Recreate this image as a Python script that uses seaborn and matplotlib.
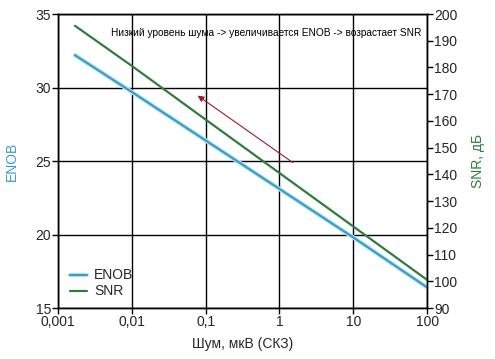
import numpy as np
import pandas as pd
import matplotlib
matplotlib.use("Agg")
import matplotlib.pyplot as plt
import matplotlib.patheffects as pe
from matplotlib.ticker import FixedLocator, FuncFormatter, NullLocator
import seaborn as sns

# --- данные ---
noise_uv = [0.0017, 0.01, 0.1, 1, 10, 100]
enob = [32.2, 29.7, 26.4, 23.1, 19.8, 16.4]
snr_db = [195.6, 180.6, 160.5, 140.5, 120.5, 100.5]

x_ticks = [0.001, 0.01, 0.1, 1, 10, 100]
x_tick_labels = ["0,001", "0,01", "0,1", "1", "10", "100"]
enob_ticks = [15, 20, 25, 30, 35]
snr_ticks = [90, 100, 110, 120, 130, 140, 150, 160, 170, 180, 190, 200]

note_text = "Низкий уровень шума -> увеличивается ENOB -> возрастает SNR"
arrow_from = (1.51, 24.9)
arrow_to = (0.078, 29.45)

enob_color = "#3a9cc8"
snr_color = "#2e7d3c"
arrow_color = "#a01836"

df = pd.DataFrame({"noise": noise_uv, "ENOB": enob, "SNR": snr_db})

sns.set_style("white")
plt.rcParams["font.family"] = ["Liberation Sans", "DejaVu Sans"]

fig = plt.figure(figsize=(4.95, 3.59), dpi=100)
ax = fig.add_axes([0.117, 0.142, 0.746, 0.819])
ax2 = ax.twinx()

sns.lineplot(data=df, x="noise", y="ENOB", ax=ax, color=enob_color, linewidth=1.6,
             label="ENOB", legend=False)
sns.lineplot(data=df, x="noise", y="SNR", ax=ax2, color=snr_color, linewidth=1.6,
             label="SNR", legend=False)
ax.lines[0].set_path_effects([pe.Stroke(linewidth=3.2, foreground="#bfe8f5"), pe.Normal()])

ax.set_xscale("log")
ax.set_xlim(0.001, 100)
ax.set_ylim(15, 35)
ax2.set_ylim(90, 200)

ax.xaxis.set_major_locator(FixedLocator(x_ticks))
ax.xaxis.set_minor_locator(NullLocator())
ax.xaxis.set_major_formatter(FuncFormatter(lambda v, p: x_tick_labels[x_ticks.index(v)] if v in x_ticks else ""))
ax.set_yticks(enob_ticks)
ax2.set_yticks(snr_ticks)

ax.grid(True, color="black", linewidth=1.0)
ax2.grid(False)
for a in (ax, ax2):
    for s in a.spines.values():
        s.set_color("black")
        s.set_linewidth(1.0)
ax.tick_params(axis="both", which="major", direction="out", length=4, width=1,
               color="black", labelsize=10, pad=1, left=True, bottom=True)
ax2.tick_params(axis="y", direction="out", length=4, width=1, color="black",
                labelsize=10, pad=1, right=True)

ax.set_xlabel("Шум, мкВ (СКЗ)", fontsize=10, labelpad=6)
ax.set_ylabel("ENOB", fontsize=10, color=enob_color, labelpad=12)
ax2.set_ylabel("SNR, дБ", fontsize=10, color=snr_color, labelpad=10)

ax.text(0.985, 0.935, note_text, transform=ax.transAxes, ha="right", va="center",
        fontsize=7.3, color="black")
ax.annotate("", xy=arrow_to, xytext=arrow_from,
            arrowprops=dict(arrowstyle="-|>", color=arrow_color, lw=0.8,
                            mutation_scale=9, shrinkA=0, shrinkB=0))

handles = [ax.lines[0], ax2.lines[0]]
leg = ax.legend(handles, ["ENOB", "SNR"], loc="lower left", bbox_to_anchor=(0.0, -0.01),
                frameon=False, fontsize=10, handlelength=1.2, handletextpad=0.5,
                labelspacing=0.15)

fig.savefig("out.png", dpi=100)
